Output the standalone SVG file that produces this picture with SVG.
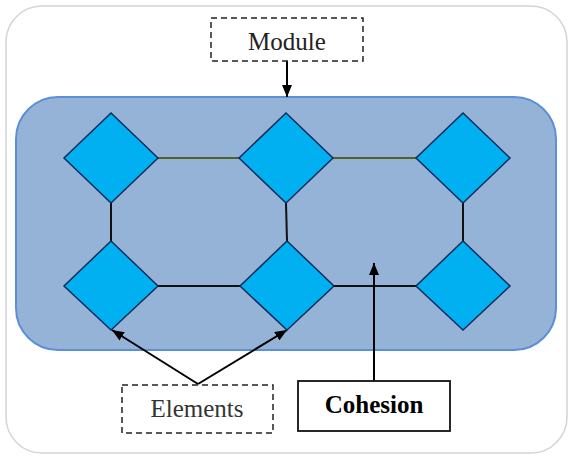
<svg xmlns="http://www.w3.org/2000/svg" width="571" height="457" viewBox="0 0 571 457">
<style>
.frame{fill:#fff;stroke:#d4d4d4;stroke-width:1.5}
.module{fill:#95b3d7;stroke:#5b8fd6;stroke-width:2}
.el{fill:#00b0f0;stroke:#0f2a5c;stroke-width:1.5;stroke-linejoin:miter}
.dash{fill:#fff;stroke:#222;stroke-width:1.5;stroke-dasharray:6,4}
.solid{fill:#fff;stroke:#111;stroke-width:1.8}
.lbl{font-size:25px;fill:#222;text-anchor:middle}
.bold{font-weight:bold;fill:#000}
.cg{stroke:#4f6228;stroke-width:2;fill:none}
.ck{stroke:#111;stroke-width:2;fill:none}
.arr{stroke:#000;stroke-width:2;fill:none;marker-end:url(#ah)}
</style>
<defs>
<marker id="ah" viewBox="0 0 12 10" refX="12" refY="5" markerWidth="12" markerHeight="10" markerUnits="userSpaceOnUse" orient="auto">
<path d="M0,0 L12,5 L0,10 Z" fill="#000"/>
</marker>
</defs>
<rect class="frame" x="6" y="6" width="561" height="447" rx="36"/>
<g id="moduleArea"><rect class="module" x="16" y="97" width="540" height="253" rx="42"/></g>
<g id="connectors">
<line class="cg" x1="158" y1="158" x2="239" y2="158"/>
<line class="cg" x1="333" y1="158" x2="416" y2="158"/>
<line class="ck" x1="158" y1="286" x2="241" y2="286"/>
<line class="ck" x1="334" y1="286" x2="417" y2="286"/>
<line class="ck" x1="111" y1="203" x2="111" y2="241"/>
<line class="ck" x1="286" y1="203" x2="287" y2="241"/>
<line class="ck" x1="463" y1="203" x2="463" y2="241"/>
<line class="arr" x1="287" y1="61" x2="287" y2="97"/>
<line class="arr" x1="374" y1="381" x2="374" y2="263"/>
<line class="arr" x1="198" y1="384" x2="112" y2="330"/>
<line class="arr" x1="198" y1="384" x2="287" y2="330"/>
</g>
<g id="e1"><polygon class="el" points="111,113 158,158 111,203 64,158"/></g>
<g id="e2"><polygon class="el" points="286,113 333,158 286,203 239,158"/></g>
<g id="e3"><polygon class="el" points="463,113 510,158 463,203 416,158"/></g>
<g id="e4"><polygon class="el" points="111,241 158,286 111,330 64,286"/></g>
<g id="e5"><polygon class="el" points="287,241 334,286 287,330 240,286"/></g>
<g id="e6"><polygon class="el" points="463,241 510,286 463,330 416,286"/></g>
<g id="module"><rect class="dash" x="211" y="18" width="152" height="43"/><text class="lbl" x="287" y="50" font-family="'Liberation Serif', 'Times New Roman', 'DejaVu Serif', serif">Module</text></g>
<g id="elements"><rect class="dash" x="122" y="385" width="151" height="48"/><text class="lbl" x="197" y="417" font-family="'Liberation Serif', 'Times New Roman', 'DejaVu Serif', serif" style="fill:#333">Elements</text></g>
<g id="cohesion"><rect class="solid" x="298" y="381" width="152" height="50"/><text class="lbl bold" x="374" y="413" font-family="'Liberation Serif', 'Times New Roman', 'DejaVu Serif', serif">Cohesion</text></g>
</svg>
